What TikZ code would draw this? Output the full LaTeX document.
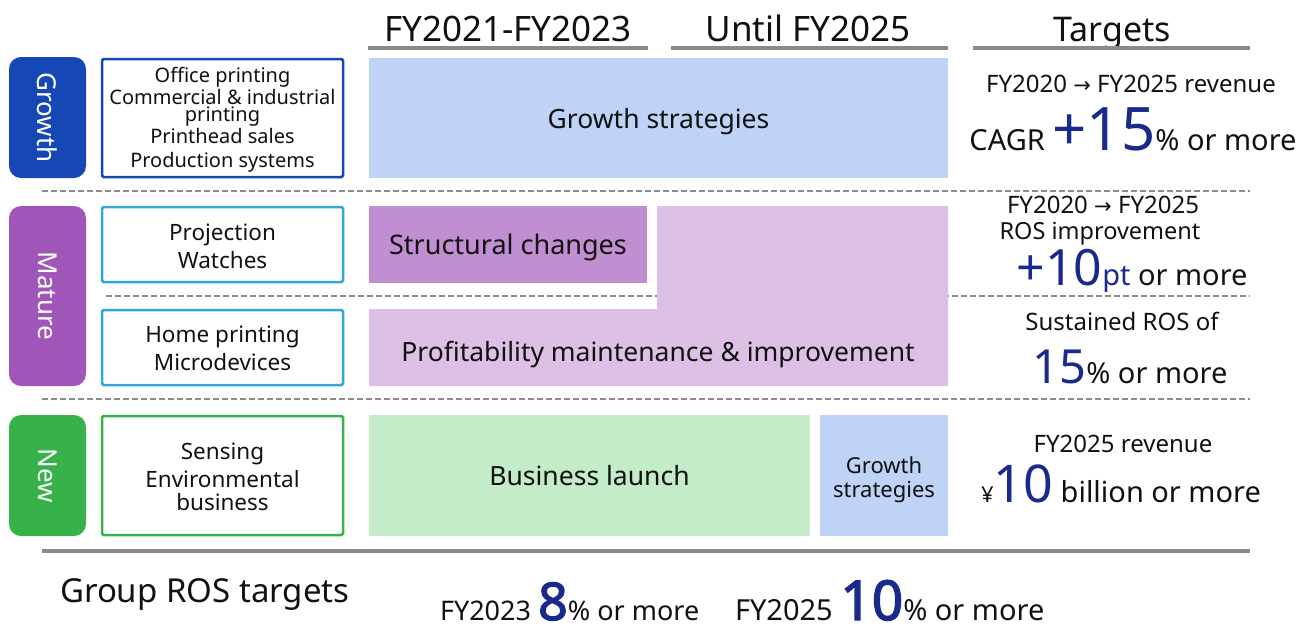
\documentclass[tikz,border=0pt]{standalone}
\usepackage{fontspec}
\setmainfont{Noto Sans}[AutoFakeBold=2.5]
\newfontfamily\arrowfont{DejaVu Sans}
\definecolor{gblue}{HTML}{1547B5}
\definecolor{lblue}{HTML}{BFD3F7}
\definecolor{mpurple}{HTML}{A055B8}
\definecolor{cyanb}{HTML}{33A6DB}
\definecolor{spurple}{HTML}{C18ED1}
\definecolor{lpurple}{HTML}{DCC0E6}
\definecolor{ngreen}{HTML}{37B24A}
\definecolor{lgreen}{HTML}{C4ECC9}
\definecolor{numblue}{HTML}{1A2A8C}
\definecolor{sepgray}{HTML}{8A8A8A}
\definecolor{txt}{HTML}{111111}
\newcommand\myfs[1]{\fontsize{#1}{#1}\selectfont}
\newcommand\arr{{\arrowfont\myfs{21}→}}
\begin{document}
\begin{tikzpicture}[x=1pt,y=-1pt,
  every node/.style={inner sep=0pt, outer sep=0pt, text=txt},
  label/.style={rounded corners=12pt, minimum width=77pt, text=white, font=\myfs{26}},
  descbox/.style={draw, line width=2.5pt, rounded corners=1.5pt, minimum width=241pt},
  fillbox/.style={draw=none, text depth=0pt},
  sepdash/.style={draw=sepgray, line width=1.6pt, dash pattern=on 6pt off 3pt},
  sepsolid/.style={draw=sepgray, line width=3.2pt},
  hd/.style={anchor=base, font=\myfs{35}},
  ln/.style={anchor=base},
  big/.style={text=numblue}
]
\useasboundingbox (0,0) rectangle (1304,630);

% header
\node[hd] (h1) at (508,41) {FY2021-FY2023};
\node[hd] (h2) at (808,41) {Until FY2025};
\node[hd, font=\myfs{34}] (h3) at (1112,41) {Targets};
\draw[sepsolid] (368,48) -- (648,48);
\draw[sepsolid] (671,48) -- (948,48);
\draw[sepsolid] (973,48) -- (1250,48);

% separators
\draw[sepdash] (42,191) -- (1250,191);
\draw[sepdash] (106,296) -- (1250,296);
\draw[sepdash] (42,399) -- (1250,399);
\draw[sepsolid] (42,551) -- (1250,551);

% Growth row
\node[label, fill=gblue, minimum height=121pt] (lg) at (47.5,117.5) {};
\node[rotate=-90, text=white, font=\myfs{26}] (lgt) at (lg.center) {Growth};
\node[descbox, draw=gblue, minimum height=118pt] (dg) at (222.5,118) {};
\node[ln, font=\myfs{20}] (dg1) at (222.5,82) {Office printing};
\node[ln, font=\myfs{20}] (dg2) at (222.5,104) {Commercial \& industrial};
\node[ln, font=\myfs{20}] (dg3) at (222.5,121.5) {printing};
\node[ln, font=\myfs{20}] (dg4) at (222.5,143) {Printhead sales};
\node[ln, font=\myfs{20}] (dg5) at (222.5,167) {Production systems};
\node[fillbox, fill=lblue, minimum width=579pt, minimum height=120pt, font=\myfs{26.5}] (gs) at (658.5,118) {Growth strategies};

% Mature row
\node[label, fill=mpurple, minimum height=180pt] (lm) at (47.5,296) {};
\node[rotate=-90, text=white, font=\myfs{26}] (lmt) at (lm.center) {Mature};
\node[descbox, draw=cyanb, minimum height=75pt] (dm1) at (222.5,244.5) {};
\node[ln, font=\myfs{22.5}] (dm1a) at (222.5,240) {Projection};
\node[ln, font=\myfs{22.5}] (dm1b) at (222.5,268) {Watches};
\node[descbox, draw=cyanb, minimum height=75pt] (dm2) at (222.5,347.5) {};
\node[ln, font=\myfs{22.5}] (dm2a) at (222.5,342) {Home printing};
\node[ln, font=\myfs{22.5}] (dm2b) at (222.5,370) {Microdevices};
\node[fillbox, fill=spurple, minimum width=278pt, minimum height=77pt, font=\myfs{27}] (sc) at (508,244.5) {Structural changes};
\fill[lpurple] (657,206) -- (948,206) -- (948,386) -- (369,386) -- (369,309) -- (657,309) -- cycle;
\node[ln, font=\myfs{26.5}] (pm) at (658,361) {Profitability maintenance \& improvement};

% New row
\node[label, fill=ngreen, minimum height=121pt] (ln) at (47.5,475.5) {};
\node[rotate=-90, text=white, font=\myfs{26}] (lnt) at (ln.center) {New};
\node[descbox, draw=ngreen, minimum height=119pt] (dn) at (222.5,475.5) {};
\node[ln, font=\myfs{22.5}] (dn1) at (222.5,459) {Sensing};
\node[ln, font=\myfs{22.5}] (dn2) at (222.5,487) {Environmental};
\node[ln, font=\myfs{22.5}] (dn3) at (222.5,510) {business};
\node[fillbox, fill=lgreen, minimum width=441pt, minimum height=121pt, font=\myfs{26.5}] (bl) at (589.5,475.5) {Business launch};
\node[fillbox, fill=lblue, minimum width=128pt, minimum height=121pt] (gs2) at (884,475.5) {};
\node[ln, font=\myfs{22}] (gs2a) at (884,473) {Growth};
\node[ln, font=\myfs{22}] (gs2b) at (884,497) {strategies};

% Targets
\node[ln, font=\myfs{24}] (t1) at (1131,92) {FY2020 \arr\ FY2025 revenue};
\node[ln, font=\myfs{29}] (t2) at (1133,150) {CAGR {\color{numblue}\myfs{60}+15}\% or more};
\node[ln, font=\myfs{24}] (t3) at (1103,213) {FY2020 \arr\ FY2025};
\node[ln, font=\myfs{23.5}] (t4) at (1100,239) {ROS improvement};
\node[ln, font=\myfs{29}] (t5) at (1132,285) {{\color{numblue}{\myfs{50}+10}pt} or more};
\node[ln, font=\myfs{24}] (t6) at (1122,330) {Sustained ROS of};
\node[ln, font=\myfs{29}] (t7) at (1130,383) {{\color{numblue}\myfs{47}15}\% or more};
\node[ln, font=\myfs{24}] (t8) at (1123,452) {FY2025 revenue};
\node[ln, font=\myfs{29}] (t9) at (1121,502) {{\myfs{22}¥}{\color{numblue}\myfs{52}10} billion or more};

% bottom
\node[anchor=base west, font=\myfs{33}] (grp) at (60,602) {Group ROS targets};
\node[anchor=base west, font=\myfs{27}] (b1) at (440,620) {FY2023 {\color{numblue}\bfseries\myfs{52}8}\% or more};
\node[anchor=base west, font=\myfs{29}] (b2) at (735,620) {FY2025 {\color{numblue}\bfseries\myfs{55}10}\% or more};
\end{tikzpicture}
\end{document}
